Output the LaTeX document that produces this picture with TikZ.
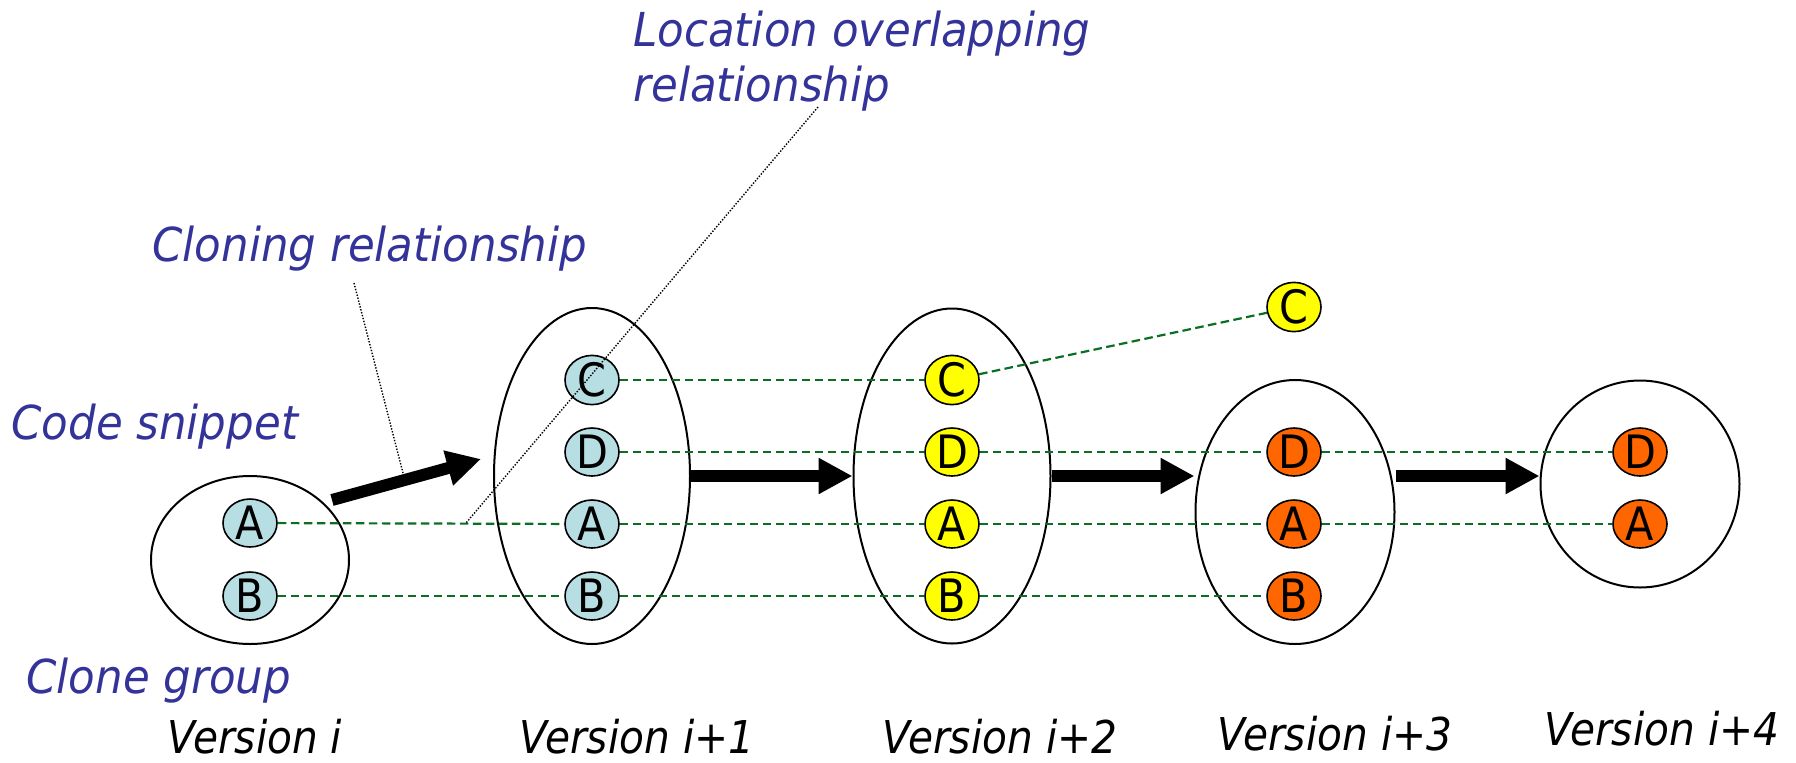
\documentclass[tikz,border=0pt]{standalone}
\usepackage{fontspec}
\setmainfont{DejaVu Sans}[FakeStretch=0.9]
\newfontfamily\notefont{DejaVu Sans}[FakeStretch=0.93]
\usepackage{tikz}
\usetikzlibrary{shapes.geometric,arrows.meta}

\definecolor{labelblue}{RGB}{51,51,153}
\definecolor{tracegreen}{RGB}{10,110,35}
\definecolor{snipblue}{RGB}{183,222,226}
\definecolor{snipyellow}{RGB}{255,255,0}
\definecolor{sniporange}{RGB}{255,102,0}

\begin{document}
\begin{tikzpicture}[x=0.5pt,y=-0.5pt]
\tikzstyle{snippet}=[ellipse,draw,line width=0.8pt,inner sep=0pt,minimum width=27pt,minimum height=24pt,font=\fontsize{23}{27}\selectfont]
\tikzstyle{cgroup}=[ellipse,draw,line width=1pt,inner sep=0pt]
\tikzstyle{trace}=[draw=tracegreen,line width=1.1pt,dash pattern=on 4.3pt off 2.2pt]
\tikzstyle{callline}=[line width=0.7pt,dash pattern=on 0.7pt off 0.8pt]
\tikzstyle{bigarrow}=[line width=6pt,-{Triangle[length=17pt,width=17pt]}]
\tikzstyle{note}=[anchor=base west,inner sep=0pt,text=labelblue,font=\notefont\fontsize{23.4}{27}\selectfont\itshape]
\tikzstyle{verlabel}=[anchor=base,inner sep=0pt,font=\fontsize{22.6}{27}\selectfont\itshape]

\useasboundingbox (0,0) rectangle (1796,762);

% clone groups, one per version
\node[cgroup,minimum width=99pt,minimum height=84pt] (g0) at (250,560) {};
\node[cgroup,minimum width=98pt,minimum height=168pt] (g1) at (592,476) {};
\node[cgroup,minimum width=98.5pt,minimum height=167.5pt] (g2) at (952,476) {};
\node[cgroup,minimum width=99.5pt,minimum height=132pt] (g3) at (1295,512) {};
\node[cgroup,minimum width=99.5pt,minimum height=103.5pt] (g4) at (1640,484) {};

% code snippets
\node[snippet,fill=snipblue] (a0) at (250,523) {A};
\node[snippet,fill=snipblue] (b0) at (250,596) {B};

\node[snippet,fill=snipblue] (c1) at (592,380) {C};
\node[snippet,fill=snipblue] (d1) at (592,452) {D};
\node[snippet,fill=snipblue] (a1) at (592,524) {A};
\node[snippet,fill=snipblue] (b1) at (592,596) {B};

\node[snippet,fill=snipyellow] (c2) at (952,380) {C};
\node[snippet,fill=snipyellow] (d2) at (952,452) {D};
\node[snippet,fill=snipyellow] (a2) at (952,524) {A};
\node[snippet,fill=snipyellow] (b2) at (952,596) {B};
\node[snippet,fill=snipyellow] (cx) at (1294,307) {C};

\node[snippet,fill=sniporange] (d3) at (1294,452) {D};
\node[snippet,fill=sniporange] (a3) at (1294,524) {A};
\node[snippet,fill=sniporange] (b3) at (1294,596) {B};

\node[snippet,fill=sniporange] (d4) at (1640,452) {D};
\node[snippet,fill=sniporange] (a4) at (1640,524) {A};

\foreach \from/\to in {a0/a1,a1/a2,a2/a3,a3/a4,b0/b1,b1/b2,b2/b3,c1/c2,c2/cx,d1/d2,d2/d3,d3/d4}
\draw [trace] (\from) -- (\to);

% evolution arrows
\coordinate (t0) at (332,500);
\coordinate (h0) at (481,459);
\draw [bigarrow] (t0) -- (h0);
\draw [bigarrow] (g1.east) -- (g2.west);
\draw [bigarrow] (g2.east) -- (g2.east -| g3.west);
\draw [bigarrow] (g3.east |- g2.east) -- (g4.west |- g2.east);

% labels
\node[note] (lloc) at (633,46) {Location overlapping};
\node[note] (lrel) at (633,101) {relationship};
\node[note] (lclone) at (152,261) {Cloning relationship};
\node[note] (lcode) at (11,439) {Code snippet};
\node[note] (lgroup) at (26,693) {Clone group};

\coordinate (p0) at (354,283);
\coordinate (p1) at (403,473);
\coordinate (q0) at (818,107);
\coordinate (q1) at (466,523);
\draw [callline] (p0) -- (p1);
\draw [callline] (q0) -- (q1);

\node[verlabel] (ver0) at (255,753) {Version i};
\node[verlabel] (ver1) at (637,753) {Version i+1};
\node[verlabel] (ver2) at (1000,753) {Version i+2};
\node[verlabel] (ver3) at (1335,750) {Version i+3};
\node[verlabel] (ver4) at (1662,745) {Version i+4};

\end{tikzpicture}
\end{document}
